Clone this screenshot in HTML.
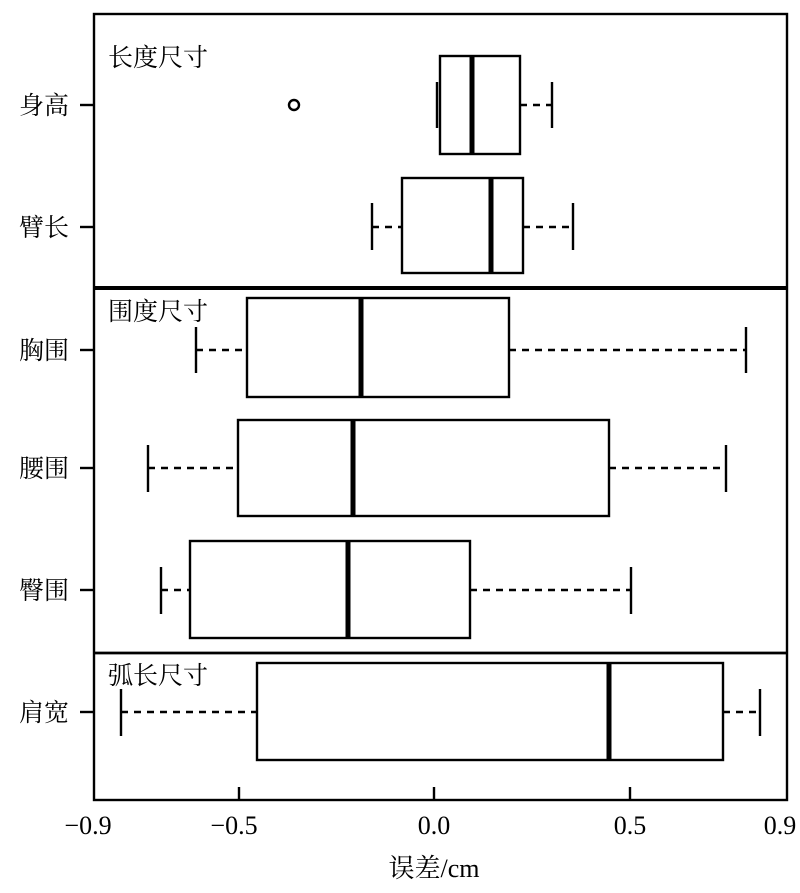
<!DOCTYPE html>
<html><head><meta charset="utf-8"><style>
html,body{margin:0;padding:0;background:#fff;}
svg text{font-family:"Liberation Serif","Noto Serif CJK SC",serif;fill:#000;}
</style></head><body>
<svg width="800" height="888" viewBox="0 0 800 888" xmlns="http://www.w3.org/2000/svg">
<g fill="none" stroke="#000" stroke-width="2.4">
<rect x="94" y="14" width="693" height="786"/>
<line x1="94" y1="288" x2="787" y2="288" stroke-width="4"/>
<line x1="94" y1="653" x2="787" y2="653" stroke-width="2.8"/>
<line x1="239" y1="787" x2="239" y2="800"/>
<line x1="434" y1="787" x2="434" y2="800"/>
<line x1="630" y1="787" x2="630" y2="800"/>
<line x1="80" y1="105" x2="94" y2="105"/>
<line x1="80" y1="227" x2="94" y2="227"/>
<line x1="80" y1="350" x2="94" y2="350"/>
<line x1="80" y1="468" x2="94" y2="468"/>
<line x1="80" y1="590" x2="94" y2="590"/>
<line x1="80" y1="712" x2="94" y2="712"/>
<rect x="440" y="56" width="80" height="98"/>
<line x1="437" y1="82" x2="437" y2="128"/>
<line x1="520" y1="105" x2="552" y2="105" stroke-dasharray="7,6"/>
<line x1="552" y1="82" x2="552" y2="128"/>
<line x1="472" y1="56" x2="472" y2="154" stroke-width="5"/>
<circle cx="294" cy="105" r="5"/>
<rect x="402" y="178" width="121" height="95"/>
<line x1="372" y1="227" x2="402" y2="227" stroke-dasharray="7,6"/>
<line x1="372" y1="203" x2="372" y2="250"/>
<line x1="523" y1="227" x2="573" y2="227" stroke-dasharray="7,6"/>
<line x1="573" y1="203" x2="573" y2="250"/>
<line x1="491" y1="178" x2="491" y2="273" stroke-width="5"/>
<rect x="247" y="298" width="262" height="99"/>
<line x1="196" y1="350" x2="247" y2="350" stroke-dasharray="7,6"/>
<line x1="196" y1="327" x2="196" y2="373"/>
<line x1="509" y1="350" x2="746" y2="350" stroke-dasharray="7,6"/>
<line x1="746" y1="327" x2="746" y2="373"/>
<line x1="361" y1="298" x2="361" y2="397" stroke-width="5"/>
<rect x="238" y="420" width="371" height="96"/>
<line x1="148" y1="468" x2="238" y2="468" stroke-dasharray="7,6"/>
<line x1="148" y1="445" x2="148" y2="492"/>
<line x1="609" y1="468" x2="726" y2="468" stroke-dasharray="7,6"/>
<line x1="726" y1="445" x2="726" y2="492"/>
<line x1="353" y1="420" x2="353" y2="516" stroke-width="5"/>
<rect x="190" y="541" width="280" height="97"/>
<line x1="161" y1="590" x2="190" y2="590" stroke-dasharray="7,6"/>
<line x1="161" y1="567" x2="161" y2="614"/>
<line x1="470" y1="590" x2="631" y2="590" stroke-dasharray="7,6"/>
<line x1="631" y1="567" x2="631" y2="614"/>
<line x1="348" y1="541" x2="348" y2="638" stroke-width="5"/>
<rect x="257" y="663" width="466" height="97"/>
<line x1="121" y1="712" x2="257" y2="712" stroke-dasharray="7,6"/>
<line x1="121" y1="689" x2="121" y2="736"/>
<line x1="723" y1="712" x2="760" y2="712" stroke-dasharray="7,6"/>
<line x1="760" y1="689" x2="760" y2="736"/>
<line x1="609" y1="663" x2="609" y2="760" stroke-width="5"/>
</g>
<g font-size="25">
<text x="108" y="66">长度尺寸</text>
<text x="108" y="320">围度尺寸</text>
<text x="108" y="684">弧长尺寸</text>
<text x="19" y="114">身高</text>
<text x="19" y="236">臂长</text>
<text x="19" y="359">胸围</text>
<text x="19" y="477">腰围</text>
<text x="19" y="599">臀围</text>
<text x="19" y="721">肩宽</text>
</g>
<g font-size="26" text-anchor="middle">
<text x="88" y="834">−0.9</text>
<text x="234" y="834">−0.5</text>
<text x="434" y="834">0.0</text>
<text x="630" y="834">0.5</text>
<text x="780" y="834">0.9</text>
<text x="434" y="877">误差/cm</text>
</g>
</svg>
</body></html>
